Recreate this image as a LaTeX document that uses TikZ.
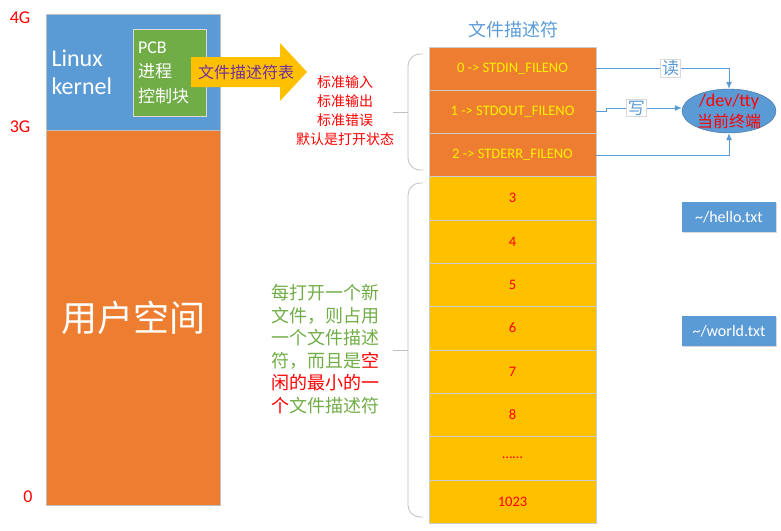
\documentclass[tikz,border=0pt]{standalone}
\usepackage{fontspec}
\setmainfont{Carlito}
\newfontfamily\cjk{Noto Sans CJK SC}
\usetikzlibrary{arrows.meta,shapes.geometric,shadows}
\definecolor{kblue}{HTML}{5B9BD5}
\definecolor{korange}{HTML}{ED7D31}
\definecolor{kgreen}{HTML}{70AD47}
\definecolor{kyellow}{HTML}{FFC000}
\definecolor{kpurple}{HTML}{7030A0}
\definecolor{kgray}{HTML}{BFBFBF}
\tikzset{g/.style={text=red, font=\fontsize{18}{18}\selectfont},
  row/.style={draw=kgray!80, minimum width=167pt, minimum height=43.3pt, inner sep=0, font=\fontsize{14.5}{14.5}\selectfont},
  fbox/.style={fill=kblue, text=white, minimum width=94pt, minimum height=30pt, inner sep=0, font=\fontsize{16}{16}\selectfont,
    drop shadow={shadow xshift=1pt, shadow yshift=-1pt, opacity=0.3}},
  conn/.style={draw=kblue, thick, -{Latex[length=7pt,width=6pt]}},
  rw/.style={fill=white, draw=kgray!60, inner sep=1.5pt, text=kblue, font=\cjk\fontsize{17}{17}\selectfont},
  brc/.style={draw=kgray, thick, rounded corners=12pt}}

\begin{document}
\begin{tikzpicture}[x=1pt,y=-1pt]
    \useasboundingbox (0,0) rectangle (781,530);

    \node[g] (g4) at (20,18) {4G};
    \node[g] (g3) at (20,127) {3G};
    \node[g] (g0) at (28,497) {0};

    \node[draw=kgray, fill=kblue, minimum width=174pt, minimum height=116pt, inner sep=0] (kernel) at (133,72) {};
    \node[draw=kgray, fill=korange, minimum width=174pt, minimum height=375pt, inner sep=0, text=white,
      font=\cjk\fontsize{36}{36}\selectfont] (user) at (133,317.5) {用户空间};
    \node[anchor=west, align=left, text=white, font=\fontsize{24}{28}\selectfont] (ltxt) at (48,72) {Linux\\kernel};
    \node[fill=kgreen, draw=kgray!60, minimum width=73pt, minimum height=87pt, text width=63pt, inner sep=5pt,
      align=left, text=white, font=\cjk\fontsize{17}{24.5}\selectfont] (pcb) at (169.5,72.5) {{\rmfamily\fontsize{18}{24.5}\selectfont PCB}\\进程\\控制块};

    \fill[kyellow] (191,57) -- (280,57) -- (280,43) -- (307,72) -- (280,101) -- (280,87) -- (191,87) -- cycle;
    \node[text=kpurple, font=\cjk\fontsize{16}{16}\selectfont] (fdt) at (246,72) {文件描述符表};

    \node[align=center, text=red, font=\cjk\fontsize{14}{19}\selectfont] (std) at (345,111) {标准输入\\标准输出\\标准错误\\默认是打开状态};
    \node[anchor=west, align=left, text=kgreen, font=\cjk\fontsize{18}{22.5}\selectfont] (note) at (268,349)
      {每打开一个新\\文件，则占用\\一个文件描述\\符，而且是\textcolor{red}{空}\\\textcolor{red}{闲的最小的一}\\\textcolor{red}{个}文件描述符};

    \draw[brc] (423,54) -- (408,54) -- (408,170) -- (423,170);
    \draw[kgray, thick] (408,112) -- (393,112);
    \draw[brc] (423,183) -- (408,183) -- (408,517) -- (423,517);
    \draw[kgray, thick] (408,350) -- (393,350);

    \node[text=kblue, font=\cjk\fontsize{18}{18}\selectfont] (title) at (513,30) {文件描述符};
    \foreach \i/\t in {0/STDIN,1/STDOUT,2/STDERR}
    {
      \node[row, fill=korange, text=yellow] (r\i) at (512.5,{46.7+43.3*(\i+0.5)}) {\i\ -> \t\_FILENO};
    }
    \foreach \i/\t in {3/3,4/4,5/5,6/6,7/7,8/8,9/……,10/1023}
    {
      \node[row, fill=kyellow, text=red] (r\i) at (512.5,{46.7+43.3*(\i+0.5)}) {\t};
    }

    \node[ellipse, fill=kblue, draw=kblue!70!black, minimum width=94pt, minimum height=44pt, inner sep=0] (tty) at (729,111) {};
    \node[align=center, text=red, font=\fontsize{18}{21}\selectfont] (ttytxt) at (tty) {/dev/tty\\{\cjk\fontsize{16}{16}\selectfont 当前终端}};
    \draw[conn] (r0.east) -| (tty.north) node[rw, pos=0.28] {读};
    \draw[conn] (r1.east) -- ++(10,0) |- ([yshift=3pt]tty.west) node[rw, pos=0.7] {写};
    \draw[conn] (r2.east) -| (tty.south);

    \node[fbox] (hello) at (729,217) {\textasciitilde/hello.txt};
    \node[fbox] (world) at (729,331) {\textasciitilde/world.txt};
\end{tikzpicture}
\end{document}
